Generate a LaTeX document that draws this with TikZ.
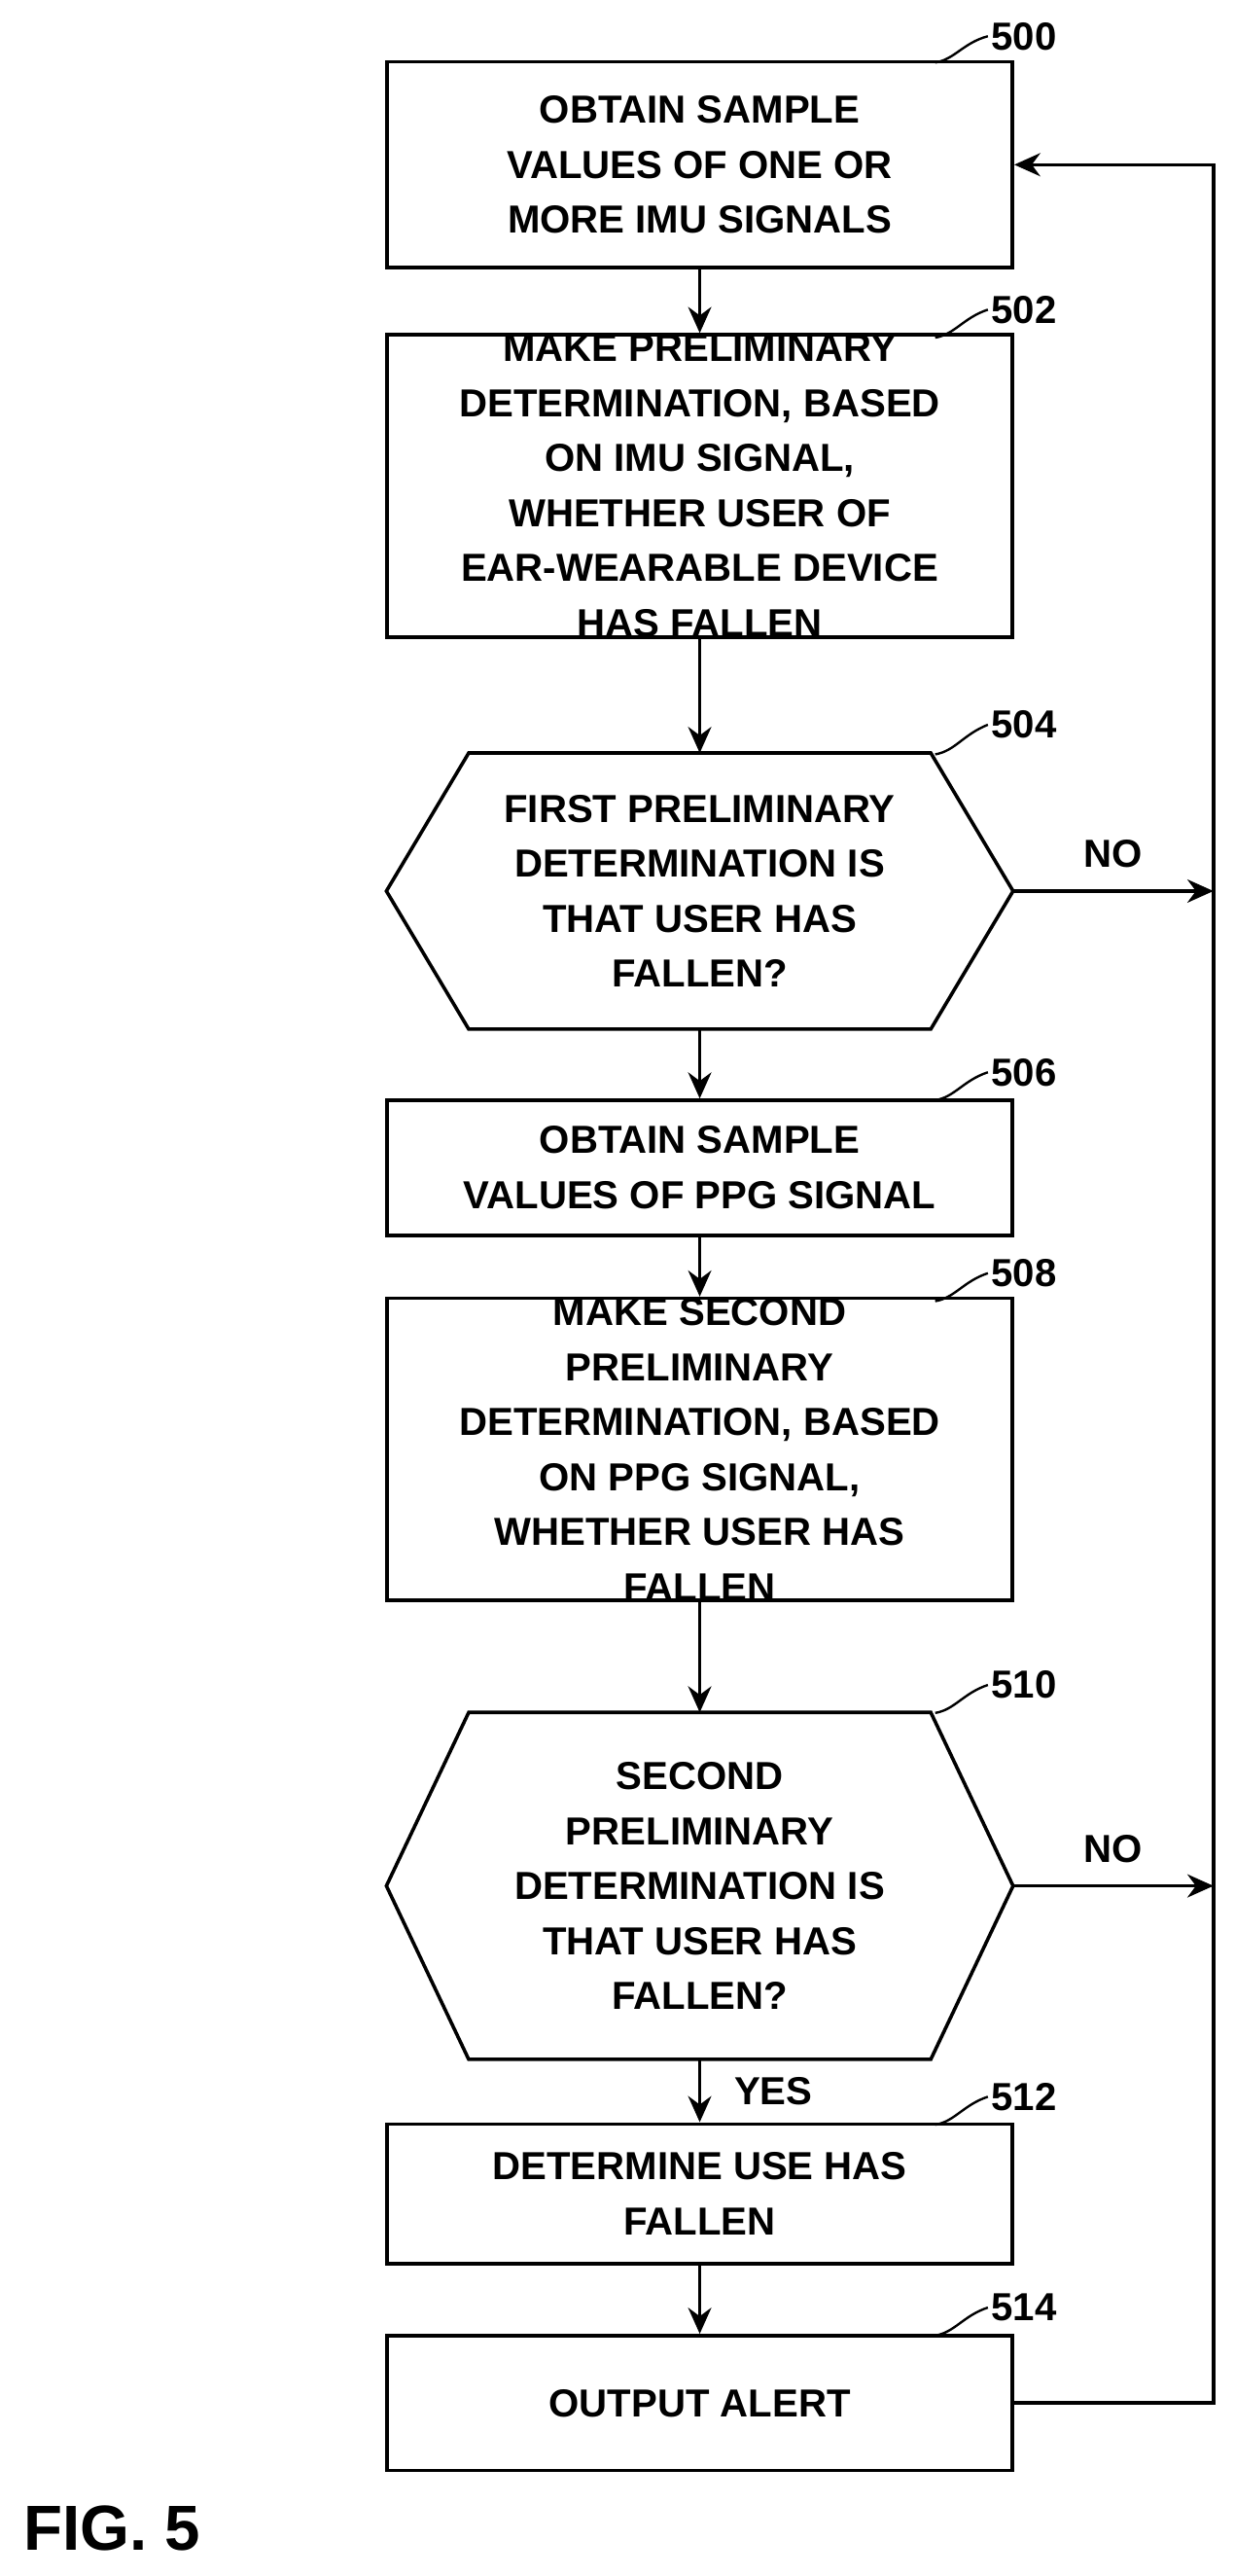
\documentclass[tikz,border=0pt]{standalone}
\usepackage{fontspec}
\setmainfont{Liberation Sans}
\usetikzlibrary{arrows.meta,positioning}
\begin{document}
\begin{tikzpicture}[x=0.02cm,y=-0.02cm]
  \tikzset{step box/.style={draw,very thick,minimum width=7.6cm,align=center,inner sep=0pt,font=\bfseries\fontsize{13.5}{19}\selectfont},
    hex text/.style={draw=none,minimum width=7.6cm,align=center,inner sep=0pt,font=\bfseries\fontsize{13.5}{19}\selectfont},
    normal arrow/.style={draw,very thick,-{Stealth[length=9pt,width=8pt]}},
    ref label/.style={font=\bfseries\fontsize{13.5}{16}\selectfont,anchor=west,inner sep=1pt}}
  \useasboundingbox (0,0) rectangle (750,1564);

  \node[step box,minimum height=2.5cm] (obtimu) at (425,100) {OBTAIN SAMPLE\\VALUES OF ONE OR\\MORE IMU SIGNALS};
  \node[step box,minimum height=3.6cm] (prelimu) at (425,295) {MAKE PRELIMINARY\\DETERMINATION, BASED\\ON IMU SIGNAL,\\WHETHER USER OF\\EAR-WEARABLE DEVICE\\HAS FALLEN};
  \node[hex text,minimum height=3.34cm] (decimu) at (425,541) {FIRST PRELIMINARY\\DETERMINATION IS\\THAT USER HAS\\FALLEN?};
  \node[step box,minimum height=1.64cm] (obtppg) at (425,709) {OBTAIN SAMPLE\\VALUES OF PPG SIGNAL};
  \node[step box,minimum height=3.6cm] (prelppg) at (425,880) {MAKE SECOND\\PRELIMINARY\\DETERMINATION, BASED\\ON PPG SIGNAL,\\WHETHER USER HAS\\FALLEN};
  \node[hex text,minimum height=4.2cm] (decppg) at (425,1145) {SECOND\\PRELIMINARY\\DETERMINATION IS\\THAT USER HAS\\FALLEN?};
  \node[step box,minimum height=1.7cm] (fallen) at (425,1332) {DETERMINE USE HAS\\FALLEN};
  \node[step box,minimum height=1.64cm] (alert) at (425,1459) {OUTPUT ALERT};

  % hexagon outlines
  \foreach \d in {decimu,decppg}
    \draw[very thick] (\d.west) -- ([xshift=1cm]\d.north west) -- ([xshift=-1cm]\d.north east)
      -- (\d.east) -- ([xshift=-1cm]\d.south east) -- ([xshift=1cm]\d.south west) -- cycle;

  \coordinate (loopimu) at (737,541);
  \coordinate (loopppg) at (737,1145);
  \coordinate (loopend) at (737,1459);
  \coordinate (looptop) at (737,100);

  \path[normal arrow] (obtimu) -- (prelimu);
  \path[normal arrow] (prelimu) -- (decimu.north);
  \path[normal arrow] (decimu.south) -- (obtppg);
  \path[normal arrow] (obtppg) -- (prelppg);
  \path[normal arrow] (prelppg) -- (decppg.north);
  \path[normal arrow] (decppg.south) -- node[right=8pt,font=\bfseries\fontsize{13.5}{16}\selectfont] {YES} (fallen);
  \path[normal arrow] (fallen) -- (alert);
  \path[normal arrow] (decimu.east) -- node[above=4pt,font=\bfseries\fontsize{13.5}{16}\selectfont] {NO} (loopimu);
  \path[normal arrow] (decppg.east) -- node[above=4pt,font=\bfseries\fontsize{13.5}{16}\selectfont] {NO} (loopppg);
  \path[normal arrow] (alert.east) -- (loopend) -- (looptop) -- (obtimu.east);

  % reference numerals
  \foreach \n/\b/\t in {obtimu/500/north, prelimu/502/north, decimu/504/north, obtppg/506/north, prelppg/508/north, decppg/510/north, fallen/512/north, alert/514/north}{
    \node[ref label] (lbl\b) at ([xshift=1.6cm,yshift=0.3cm]\n.north east |- \n.north) {};
  }
  \node[ref label] (n500) at (600,22) {500};
  \node[ref label] (n502) at (600,188) {502};
  \node[ref label] (n504) at (600,440) {504};
  \node[ref label] (n506) at (600,651) {506};
  \node[ref label] (n508) at (600,773) {508};
  \node[ref label] (n510) at (600,1023) {510};
  \node[ref label] (n512) at (600,1273) {512};
  \node[ref label] (n514) at (600,1401) {514};
  \foreach \b/\y in {500/38,502/205,504/458,506/668,508/790,510/1040,512/1290,514/1418}
    \draw[thick] (n\b.west) .. controls (585,\y-12) and (580,\y-2) .. (568,\y);

  \node[anchor=west,font=\bfseries\fontsize{22}{24}\selectfont] (figlbl) at (8,1535) {FIG. 5};
\end{tikzpicture}
\end{document}
